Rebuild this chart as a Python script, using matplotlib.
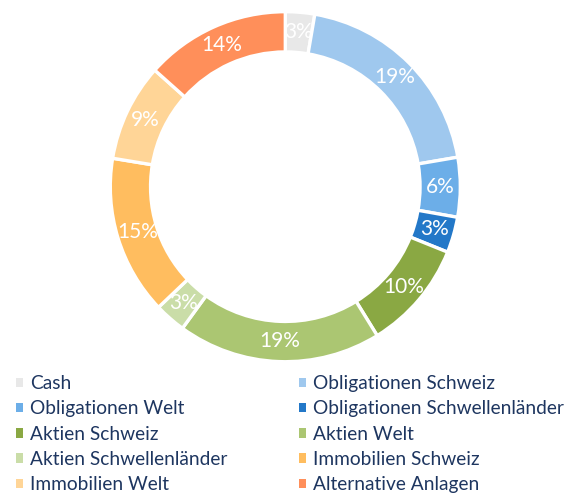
import numpy as np
import matplotlib.pyplot as plt
from matplotlib.patches import Patch

categories = ['Cash', 'Obligationen Schweiz', 'Obligationen Welt',
              'Obligationen Schwellenländer', 'Aktien Schweiz', 'Aktien Welt',
              'Aktien Schwellenländer', 'Immobilien Schweiz', 'Immobilien Welt',
              'Alternative Anlagen']
shares = [2.7, 19.6, 5.5, 3.3, 10.1, 18.8, 2.9, 14.7, 9.0, 13.4]
pct_labels = ['3%', '19%', '6%', '3%', '10%', '19%', '3%', '15%', '9%', '14%']
colors = ['#E8E8E8', '#9FC8EE', '#6CAEE8', '#2378C8', '#8AA843', '#ABC672',
          '#CADDA8', '#FFBD5F', '#FFD597', '#FF8F5A']

plt.rcParams['font.family'] = ['Lato', 'DejaVu Sans']

fig = plt.figure(figsize=(5.79, 4.93), dpi=100)
ax = fig.add_axes([0.1905, 0.2663, 0.6045, 0.710])

wedges, _ = ax.pie(shares, colors=colors, startangle=90, counterclock=False,
                   radius=1.0, wedgeprops=dict(width=0.23, edgecolor='white', linewidth=2.4))

# percentage labels in the middle of the ring
for w, lab in zip(wedges, pct_labels):
    ang = np.deg2rad((w.theta1 + w.theta2) / 2)
    r = 0.885
    ax.text(r * np.cos(ang), r * np.sin(ang), lab, ha='center', va='center',
            color='white', fontsize=15)

ax.set_xlim(-1, 1)
ax.set_ylim(-1, 1)
ax.set_aspect('equal')
ax.axis('off')

# legend reads row-wise, so build columns by hand
order = list(range(0, 10, 2)) + list(range(1, 10, 2))
handles = [Patch(facecolor=colors[i], edgecolor='none') for i in order]
labels = [categories[i] for i in order]
fig.legend(handles, labels, ncol=2, loc='upper left', bbox_to_anchor=(0.028, 0.239),
           frameon=False, fontsize=13.8, labelcolor='#1E3660',
           handlelength=0.38, handleheight=0.38, handletextpad=0.33,
           columnspacing=3.75, labelspacing=0.43, borderpad=0, borderaxespad=0)

fig.savefig('out.png', dpi=100)
